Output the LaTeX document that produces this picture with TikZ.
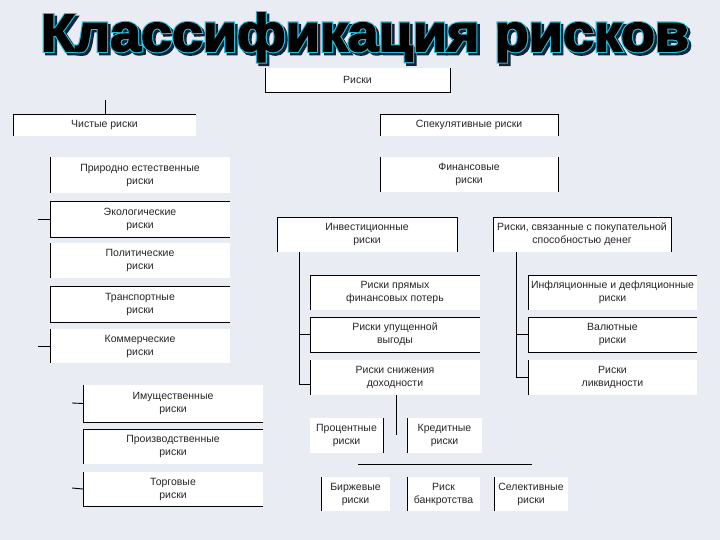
\documentclass[tikz,border=0pt]{standalone}
\usepackage{fontspec}
\setmainfont{Liberation Sans}
\newfontfamily\glowfont[FakeBold=7]{Liberation Sans}
\newfontfamily\inkfont[FakeBold=3]{Liberation Sans}
\usepackage{graphicx}
\usetikzlibrary{positioning,calc}
\definecolor{paper}{RGB}{233,237,243}
\definecolor{glow}{RGB}{40,190,220}
\definecolor{shade}{RGB}{15,35,60}
\newcommand{\riskstitle}{\resizebox{648pt}{38pt}{Классификация рисков}}
\tikzset{
  rbox/.style={fill=white, inner sep=0pt, outer sep=0pt, align=center,
    font=\fontsize{10.5}{13}\selectfont, text=black!85},
  edge/.style={line width=0.9pt},
  heading/.style={anchor=base, inner sep=0pt}
}

\begin{document}
\begin{tikzpicture}[x=1pt,y=-1pt]
\fill[paper] (0,0) rectangle (720,540);
\useasboundingbox (0,0) rectangle (720,540);

% title
\node[heading, font=\glowfont\bfseries, text=shade] (titleshade) at (367.5,53.5) {\riskstitle};
\node[heading, font=\glowfont\bfseries, text=glow] (titleglow) at (365,51) {\riskstitle};
\node[heading, font=\inkfont\bfseries, text=black] (title) at (365,51) {\riskstitle};

% top level
\node[rbox, minimum width=185pt, minimum height=24pt] (risks) at (357.5,80) {Риски};
\node[rbox, minimum width=183pt, minimum height=22pt] (pure) at (104.5,125) {Чистые риски};
\node[rbox, minimum width=178pt, minimum height=22pt] (spec) at (469,125) {Спекулятивные риски};
\draw[edge] (risks.north west) -- (risks.south west) -- (risks.south east) -- (risks.north east);
\draw[edge] (pure.south west) -- (pure.north west) -- (pure.north east);
\draw[edge] (spec.south west) -- (spec.north west) -- (spec.north east) -- (spec.south east);
\coordinate (puretop) at (105,100);
\draw[edge] (puretop) -- (pure.north -| puretop);

% pure risks
\node[rbox, minimum width=180pt, minimum height=36pt] (nat) at (140,175) {Природно естественные\\риски};
\node[rbox, minimum width=180pt, minimum height=36pt] (eco) at (140,219) {Экологические\\риски};
\node[rbox, minimum width=180pt, minimum height=35pt] (pol) at (140,260.5) {Политические\\риски};
\node[rbox, minimum width=180pt, minimum height=36pt] (trans) at (140,304) {Транспортные\\риски};
\node[rbox, minimum width=180pt, minimum height=34pt] (comm) at (140,346) {Коммерческие\\риски};
\node[rbox, minimum width=180pt, minimum height=37pt] (prop) at (173,403.5) {Имущественные\\риски};
\node[rbox, minimum width=180pt, minimum height=35pt] (prod) at (173,446.5) {Производственные\\риски};
\node[rbox, minimum width=180pt, minimum height=34pt] (trade) at (173,489) {Торговые\\риски};
\draw[edge] (nat.north west) -- (nat.south west);
\draw[edge] (eco.north east) -- (eco.north west) -- (eco.south west) -- (eco.south east);
\draw[edge] (pol.north west) -- (pol.south west);
\draw[edge] (trans.north east) -- (trans.north west) -- (trans.south west) -- (trans.south east);
\draw[edge] (comm.north west) -- (comm.south west);
\draw[edge] (prop.north west) -- (prop.south west) -- (prop.south east);
\draw[edge] (prod.north east) -- (prod.north west) -- (prod.south west);
\draw[edge] (trade.north west) -- (trade.south west) -- (trade.south east);
\coordinate (ecotick) at (38,219);
\coordinate (commtick) at (38,346);
\coordinate (proptick) at (72,403);
\coordinate (tradetick) at (72,488);
\draw[edge] (ecotick) -- (eco.west);
\draw[edge] (commtick) -- (comm.west);
\draw[edge] (proptick) -- (prop.west);
\draw[edge] (tradetick) -- (trade.west);

% speculative risks
\node[rbox, minimum width=178pt, minimum height=35pt] (fin) at (469,174.5) {Финансовые\\риски};
\node[rbox, minimum width=180pt, minimum height=35pt] (inv) at (367,234.5) {Инвестиционные\\риски};
\node[rbox, minimum width=178pt, minimum height=35pt] (purch) at (582,234.5) {Риски, связанные с покупательной\\способностью денег};
\draw[edge] (fin.north west) -- (fin.south west);
\draw[edge] (fin.north east) -- (fin.south east);
\draw[edge] (inv.south west) -- (inv.north west) -- (inv.north east) -- (inv.south east);
\draw[edge] (purch.south west) -- (purch.north west) -- (purch.north east) -- (purch.south east);

% investment risks
\node[rbox, minimum width=170pt, minimum height=35pt] (direct) at (395,292.5) {Риски прямых\\финансовых потерь};
\node[rbox, minimum width=170pt, minimum height=35pt] (lost) at (395,334.5) {Риски упущенной\\выгоды};
\node[rbox, minimum width=170pt, minimum height=35pt] (yield) at (395,377.5) {Риски снижения\\доходности};
\draw[edge] (direct.south west) -- (direct.north west) -- (direct.north east);
\draw[edge] (lost.north east) -- (lost.north west) -- (lost.south west) -- (lost.south east);
\draw[edge] (yield.north west) -- (yield.south west);
\coordinate (invtrunk) at (299,252);
\draw[edge] (invtrunk) |- ([yshift=-7pt]yield.west);
\draw[edge] (invtrunk |- lost.west) -- (lost.west);

% purchasing power risks
\node[rbox, minimum width=169pt, minimum height=35pt] (infl) at (612.5,292.5) {Инфляционные и дефляционные\\риски};
\node[rbox, minimum width=169pt, minimum height=35pt] (curr) at (612.5,334.5) {Валютные\\риски};
\node[rbox, minimum width=169pt, minimum height=35pt] (liq) at (612.5,377.5) {Риски\\ликвидности};
\draw[edge] (infl.south west) -- (infl.north west) -- (infl.north east);
\draw[edge] (curr.north east) -- (curr.north west) -- (curr.south west) -- (curr.south east);
\draw[edge] (liq.north west) -- (liq.south west);
\coordinate (purchtrunk) at (516,252);
\draw[edge] (purchtrunk) |- (liq.west);
\draw[edge] (purchtrunk |- curr.west) -- (curr.west);

% yield risks
\node[rbox, minimum width=73pt, minimum height=35pt] (pct) at (346.5,435.5) {Процентные\\риски};
\node[rbox, minimum width=75pt, minimum height=35pt] (cred) at (444.5,435.5) {Кредитные\\риски};
\node[rbox, minimum width=69pt, minimum height=34pt] (exch) at (355.5,494) {Биржевые\\риски};
\node[rbox, minimum width=73pt, minimum height=34pt] (bankr) at (443.5,494) {Риск\\банкротства};
\node[rbox, minimum width=74pt, minimum height=34pt] (sel) at (531,494) {Селективные\\риски};
\draw[edge] (pct.north east) -- (pct.south east);
\draw[edge] (cred.north west) -- (cred.south west);
\draw[edge] (exch.north west) -- (exch.south west);
\draw[edge] (bankr.north west) -- (bankr.south west);
\draw[edge] (sel.north west) -- (sel.south west);
\coordinate (yieldfoot) at (396,435);
\draw[edge] (yield.south -| yieldfoot) -- (yieldfoot);
\coordinate (splitl) at (358,464);
\coordinate (splitr) at (532,464);
\draw[edge] (splitl) -- (splitr);
\end{tikzpicture}
\end{document}
